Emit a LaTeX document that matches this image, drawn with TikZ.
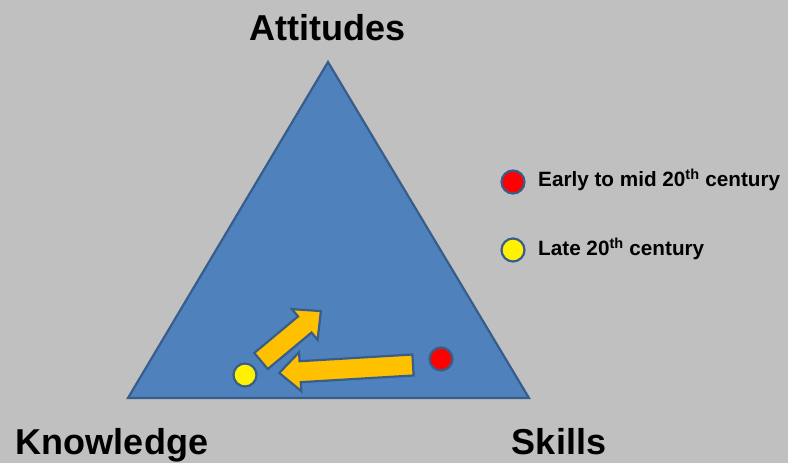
\documentclass[tikz,border=0pt]{standalone}
\usepackage{fontspec}
\setmainfont{Liberation Sans}
\definecolor{bgc}{HTML}{C0C0C0}
\definecolor{trifill}{HTML}{4F81BD}
\definecolor{triline}{HTML}{385D8A}
\definecolor{arrfill}{HTML}{FFC000}
\tikzset{
  tri/.style={fill=trifill,draw=triline,line width=2.2pt,line join=miter},
  arr/.style={fill=arrfill,draw=triline,line width=2.2pt,line join=miter},
  reddot/.style={circle,fill=red,draw=triline,line width=2.2pt,minimum size=23pt,inner sep=0pt},
  yeldot/.style={circle,fill=yellow,draw=triline,line width=2.2pt,minimum size=23pt,inner sep=0pt},
  bigtxt/.style={font=\fontsize{36}{40}\selectfont\bfseries,inner sep=0pt},
  legtxt/.style={font=\fontsize{20.7}{24}\selectfont\bfseries,inner sep=0pt,anchor=base west}
}
\begin{document}
\begin{tikzpicture}[x=1pt,y=1pt]
\fill[bgc] (0,0) rectangle (788,463);
\useasboundingbox (0,0) rectangle (788,463);
% triangle
\coordinate (apex) at (328,401);
\coordinate (bl) at (128,65);
\coordinate (br) at (529,65);
\draw[tri] (apex) -- (br) -- (bl) -- cycle;
% labels
\node[bigtxt,anchor=base] (att) at (327.5,422) {Attitudes};
\node[bigtxt,anchor=base] (know) at (112,8) {Knowledge};
\node[bigtxt,anchor=base] (sk) at (559,8) {Skills};
% arrows
\begin{scope}[shift={(413,98)},rotate=183.4]
\draw[arr] (0,-10.5) -- (113,-10.5) -- (113,-19.5) -- (134,0) -- (113,19.5) -- (113,10.5) -- (0,10.5) -- cycle;
\end{scope}
\begin{scope}[shift={(261,102)},rotate=39.8]
\draw[arr] (0,-10.5) -- (57,-10.5) -- (57,-20) -- (78,0) -- (57,20) -- (57,10.5) -- (0,10.5) -- cycle;
\end{scope}
% dots
\node[reddot] (red) at (441,104) {};
\node[yeldot] (yel) at (245,88) {};
% legend
\node[reddot] (lred) at (513,281) {};
\node[yeldot] (lyel) at (513,213) {};
\node[legtxt] (tred) at (538,276) {Early to mid 20\textsuperscript{th} century};
\node[legtxt] (tyel) at (538,207) {Late 20\textsuperscript{th} century};
\end{tikzpicture}
\end{document}
